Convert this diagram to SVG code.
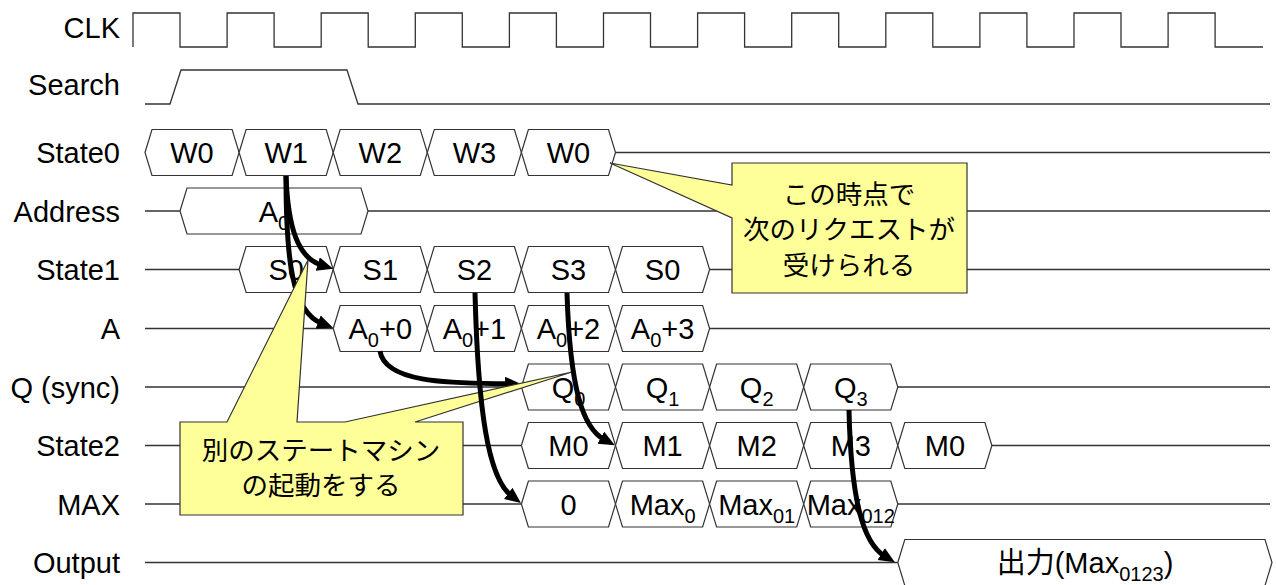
<svg xmlns="http://www.w3.org/2000/svg" width="1276" height="585" viewBox="0 0 1276 585">
<style>
.lbl{font-family:"Liberation Sans",Arial,sans-serif;font-size:29px;text-anchor:end;fill:#000}
.t{font-family:"Liberation Sans",Arial,"Noto Sans CJK JP",sans-serif;font-size:29px;text-anchor:middle;fill:#000}
.sub{font-size:20px}
.hex{fill:#fff;stroke:#333;stroke-width:1.2}
.wire{fill:none;stroke:#333;stroke-width:1.3}
.arr{fill:none;stroke:#000;stroke-width:5;marker-end:url(#ah)}
.co{fill:#ffff99;stroke:#333;stroke-width:1.2}
.cj{font-family:"Liberation Sans","Noto Sans CJK JP",sans-serif;font-size:26.5px;text-anchor:middle;fill:#000}
</style>
<defs>
<marker id="ah" markerUnits="userSpaceOnUse" markerWidth="18" markerHeight="16" refX="4" refY="7" orient="auto"><path d="M0,0 L16,7 L0,14 Z" fill="#000"/></marker>
</defs>
<rect width="1276" height="585" fill="#fff"/>

<g id="labels">
<text class="lbl" x="120" y="38">CLK</text>
<text class="lbl" x="120" y="95">Search</text>
<text class="lbl" x="120" y="163">State0</text>
<text class="lbl" x="120" y="221.5">Address</text>
<text class="lbl" x="120" y="280">State1</text>
<text class="lbl" x="120" y="339">A</text>
<text class="lbl" x="120" y="397.5">Q (sync)</text>
<text class="lbl" x="120" y="456">State2</text>
<text class="lbl" x="120" y="514.5">MAX</text>
<text class="lbl" x="120" y="573">Output</text>
</g>

<g id="clk">
<path class="wire" d="M133,47 V13 H180 V47 H227.1 V13 H274.1 V47 H321.2 V13 H368.2 V47 H415.3 V13 H462.3 V47 H509.4 V13 H556.4 V47 H603.5 V13 H650.5 V47 H697.6 V13 H744.6 V47 H791.7 V13 H838.7 V47 H885.8 V13 H932.8 V47 H979.9 V13 H1026.9 V47 H1074 V13 H1121 V47 H1168.1 V13 H1215.1 V47 H1263"/>
</g>

<g id="search">
<path class="wire" d="M145,104 H170 L181,70 H347 L358,104 H1270"/>
</g>

<g id="state0">
<path class="wire" d="M615.5,152.5 H1270"/>
<polygon class="hex" points="145,152.5 152,129.5 232.1,129.5 239.1,152.5 232.1,175.5 152,175.5"/>
<polygon class="hex" points="239.1,152.5 246.1,129.5 326.2,129.5 333.2,152.5 326.2,175.5 246.1,175.5"/>
<polygon class="hex" points="333.2,152.5 340.2,129.5 420.3,129.5 427.3,152.5 420.3,175.5 340.2,175.5"/>
<polygon class="hex" points="427.3,152.5 434.3,129.5 514.4,129.5 521.4,152.5 514.4,175.5 434.3,175.5"/>
<polygon class="hex" points="521.4,152.5 528.4,129.5 608.5,129.5 615.5,152.5 608.5,175.5 528.4,175.5"/>
<text class="t" x="192" y="163">W0</text>
<text class="t" x="286.2" y="163">W1</text>
<text class="t" x="380.3" y="163">W2</text>
<text class="t" x="474.4" y="163">W3</text>
<text class="t" x="568.5" y="163">W0</text>
</g>

<g id="address">
<path class="wire" d="M145,211 H180 M368,211 H1270"/>
<polygon class="hex" points="180,211 187,188 361,188 368,211 361,234 187,234"/>
<text class="t" x="274" y="221.5">A<tspan class="sub" dy="8">0</tspan></text>
</g>

<g id="state1">
<path class="wire" d="M145,269.5 H239.1 M709.6,269.5 H1270"/>
<polygon class="hex" points="239.1,269.5 246.1,246.5 326.2,246.5 333.2,269.5 326.2,292.5 246.1,292.5"/>
<polygon class="hex" points="333.2,269.5 340.2,246.5 420.3,246.5 427.3,269.5 420.3,292.5 340.2,292.5"/>
<polygon class="hex" points="427.3,269.5 434.3,246.5 514.4,246.5 521.4,269.5 514.4,292.5 434.3,292.5"/>
<polygon class="hex" points="521.4,269.5 528.4,246.5 608.5,246.5 615.5,269.5 608.5,292.5 528.4,292.5"/>
<polygon class="hex" points="615.5,269.5 622.5,246.5 702.6,246.5 709.6,269.5 702.6,292.5 622.5,292.5"/>
<text class="t" x="286.2" y="280">S0</text>
<text class="t" x="380.3" y="280">S1</text>
<text class="t" x="474.4" y="280">S2</text>
<text class="t" x="568.5" y="280">S3</text>
<text class="t" x="662.6" y="280">S0</text>
</g>

<g id="a">
<path class="wire" d="M145,328.5 H333.2 M709.6,328.5 H1270"/>
<polygon class="hex" points="333.2,328.5 340.2,305.5 420.3,305.5 427.3,328.5 420.3,351.5 340.2,351.5"/>
<polygon class="hex" points="427.3,328.5 434.3,305.5 514.4,305.5 521.4,328.5 514.4,351.5 434.3,351.5"/>
<polygon class="hex" points="521.4,328.5 528.4,305.5 608.5,305.5 615.5,328.5 608.5,351.5 528.4,351.5"/>
<polygon class="hex" points="615.5,328.5 622.5,305.5 702.6,305.5 709.6,328.5 702.6,351.5 622.5,351.5"/>
<text class="t" x="380.3" y="339">A<tspan class="sub" dy="8">0</tspan><tspan dy="-8">+0</tspan></text>
<text class="t" x="474.4" y="339">A<tspan class="sub" dy="8">0</tspan><tspan dy="-8">+1</tspan></text>
<text class="t" x="568.5" y="339">A<tspan class="sub" dy="8">0</tspan><tspan dy="-8">+2</tspan></text>
<text class="t" x="662.6" y="339">A<tspan class="sub" dy="8">0</tspan><tspan dy="-8">+3</tspan></text>
</g>

<g id="q">
<path class="wire" d="M145,387 H521.4 M897.8,387 H1270"/>
<polygon class="hex" points="521.4,387 528.4,364 608.5,364 615.5,387 608.5,410 528.4,410"/>
<polygon class="hex" points="615.5,387 622.5,364 702.6,364 709.6,387 702.6,410 622.5,410"/>
<polygon class="hex" points="709.6,387 716.6,364 796.7,364 803.7,387 796.7,410 716.6,410"/>
<polygon class="hex" points="803.7,387 810.7,364 890.8,364 897.8,387 890.8,410 810.7,410"/>
<text class="t" x="568.5" y="397.5">Q<tspan class="sub" dy="8">0</tspan></text>
<text class="t" x="662.6" y="397.5">Q<tspan class="sub" dy="8">1</tspan></text>
<text class="t" x="756.7" y="397.5">Q<tspan class="sub" dy="8">2</tspan></text>
<text class="t" x="850.8" y="397.5">Q<tspan class="sub" dy="8">3</tspan></text>
</g>

<g id="state2">
<path class="wire" d="M145,445.5 H521.4 M991.9,445.5 H1270"/>
<polygon class="hex" points="521.4,445.5 528.4,422.5 608.5,422.5 615.5,445.5 608.5,468.5 528.4,468.5"/>
<polygon class="hex" points="615.5,445.5 622.5,422.5 702.6,422.5 709.6,445.5 702.6,468.5 622.5,468.5"/>
<polygon class="hex" points="709.6,445.5 716.6,422.5 796.7,422.5 803.7,445.5 796.7,468.5 716.6,468.5"/>
<polygon class="hex" points="803.7,445.5 810.7,422.5 890.8,422.5 897.8,445.5 890.8,468.5 810.7,468.5"/>
<polygon class="hex" points="897.8,445.5 904.8,422.5 984.9,422.5 991.9,445.5 984.9,468.5 904.8,468.5"/>
<text class="t" x="568.5" y="456">M0</text>
<text class="t" x="662.6" y="456">M1</text>
<text class="t" x="756.7" y="456">M2</text>
<text class="t" x="850.8" y="456">M3</text>
<text class="t" x="944.9" y="456">M0</text>
</g>

<g id="max">
<path class="wire" d="M145,504 H521.4 M897.8,504 H1270"/>
<polygon class="hex" points="521.4,504 528.4,481 608.5,481 615.5,504 608.5,527 528.4,527"/>
<polygon class="hex" points="615.5,504 622.5,481 702.6,481 709.6,504 702.6,527 622.5,527"/>
<polygon class="hex" points="709.6,504 716.6,481 796.7,481 803.7,504 796.7,527 716.6,527"/>
<polygon class="hex" points="803.7,504 810.7,481 890.8,481 897.8,504 890.8,527 810.7,527"/>
<text class="t" x="568.5" y="514.5">0</text>
<text class="t" x="662.6" y="514.5">Max<tspan class="sub" dy="8">0</tspan></text>
<text class="t" x="756.7" y="514.5">Max<tspan class="sub" dy="8">01</tspan></text>
<text class="t" x="850.8" y="514.5">Max<tspan class="sub" dy="8">012</tspan></text>
</g>

<g id="output">
<path class="wire" d="M145,562.5 H897.8"/>
<polygon class="hex" points="897.8,562.5 904.8,539.5 1265,539.5 1272,562.5 1265,585.5 904.8,585.5"/>
<text class="t" x="1085" y="573">出力(Max<tspan class="sub" dy="8">0123</tspan><tspan dy="-8">)</tspan></text>
</g>

<g id="connectors">
<path class="arr" d="M286,176 C288,228 298,258 321.6,265.2"/>
<path class="arr" d="M286,176 C286,260 292,312 321.9,323.4"/>
<path class="arr" d="M380,351 C385,385 460,383 509,383.8"/>
</g>

<g id="callout-start">
<path class="co" d="M180,422 H227 L308,260 L297,422 H345 L572,372 L415,422 H463 V515 H180 Z"/>
<text class="cj" x="321" y="460">別のステートマシン<tspan x="321" dy="35">の起動をする</tspan></text>
</g>

<g id="connectors2">
<path class="arr" d="M475,293 C478,410 488,478 511.4,495.8"/>
<path class="arr" d="M567,293 C570,390 583,428 604.3,439.6"/>
<path class="arr" d="M849,410 C851,500 863,543 884.6,556.1"/>
</g>

<g id="callout-next">
<path class="co" d="M732,163 H967 V293 H732 V218 L610,163 L732,185 Z"/>
<text class="cj" x="849" y="204">この時点で<tspan x="849" dy="35">次のリクエストが</tspan><tspan x="849" dy="36">受けられる</tspan></text>
</g>
</svg>
